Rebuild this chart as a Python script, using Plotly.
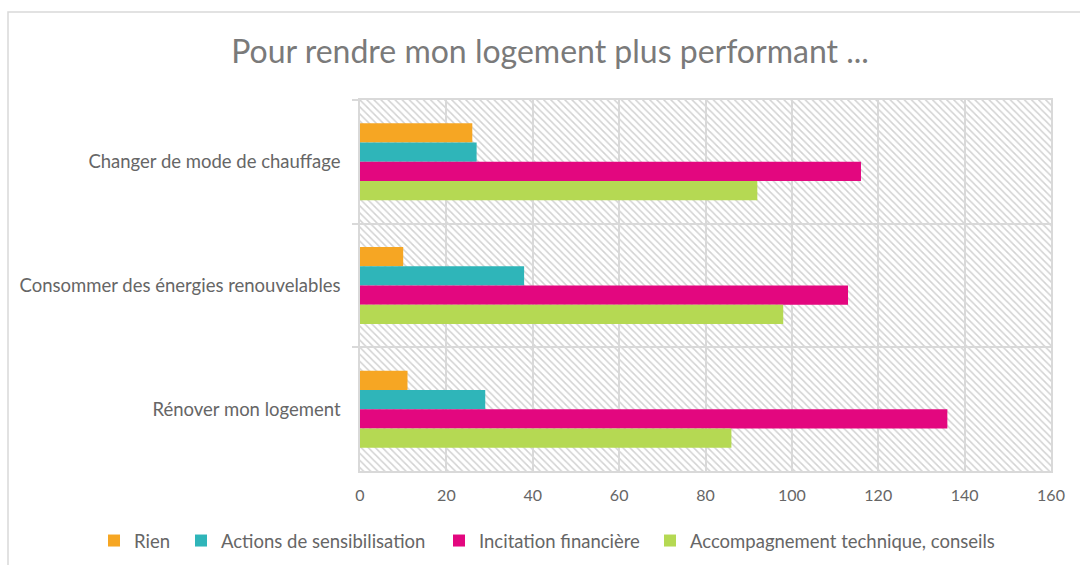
import plotly.graph_objects as go

# Survey answers: what would push respondents to make their home more efficient
categories = [
    "Changer de mode de chauffage",
    "Consommer des énergies renouvelables",
    "Rénover mon logement",
]
rien = [26, 10, 11]
sensibilisation = [27, 38, 29]
incitation = [116, 113, 136]
accompagnement = [92, 98, 86]

series_names = [
    "Rien",
    "Actions de sensibilisation",
    "Incitation financière",
    "Accompagnement technique, conseils",
]
series_values = [rien, sensibilisation, incitation, accompagnement]
series_colors = ["#F6A623", "#2FB5B9", "#E3077F", "#B5D953"]

x_ticks = [0, 20, 40, 60, 80, 100, 120, 140, 160]

W, H = 1080, 565
L, R, T, B = 360, 29, 100, 94
GRID = "#d9d9d9"
TEXT = "#666666"
FONT = "Lato"

# left edge (px) of each legend entry along the bottom row
legend_left = [94, 181, 439, 650]

fig = go.Figure()

# hatched plot background (drawn on its own subplot, underneath the grid)
fig.add_trace(go.Bar(
    y=categories, x=[x_ticks[-1]] * len(categories), orientation="h",
    width=1, xaxis="x", yaxis="y", showlegend=False, hoverinfo="skip",
    marker=dict(color="#d2d2d2", line=dict(width=0),
                pattern=dict(shape="\\", size=5, solidity=0.3, fillmode="replace")),
))

legend_ids = ["legend", "legend2", "legend3", "legend4"]
for name, vals, col, lid in zip(series_names, series_values, series_colors, legend_ids):
    fig.add_trace(go.Bar(
        y=categories, x=vals, name=name, orientation="h",
        xaxis="x2", yaxis="y2", legend=lid,
        marker=dict(color=col, line=dict(width=0)),
    ))

pw = W - L - R
ph = H - T - B

def px_x(p):
    return (p - L) / pw

def px_y(p):
    return (H - B - p) / ph

legends = {}
for lid, lx in zip(legend_ids, legend_left):
    legends[lid] = dict(
        orientation="h", x=px_x(lx), xanchor="left",
        y=px_y(541), yanchor="middle", bgcolor="rgba(0,0,0,0)",
        font=dict(size=18.5, color=TEXT),
    )

fig.update_layout(
    width=W, height=H,
    margin=dict(l=L, r=R, t=T, b=B, autoexpand=False),
    paper_bgcolor="white",
    plot_bgcolor="rgba(0,0,0,0)",
    barmode="group", bargap=0.377, bargroupgap=0,
    font=dict(family=FONT, color=TEXT, size=16),
    title=dict(
        text="Pour rendre mon logement plus performant ...",
        font=dict(family=FONT, size=32, color="#7a7a7a"),
        x=550 / W, xanchor="center", xref="container",
        y=1 - 52 / H, yanchor="middle", yref="container",
    ),
    xaxis=dict(range=[x_ticks[0], x_ticks[-1]], visible=False, fixedrange=True),
    yaxis=dict(categoryorder="array", categoryarray=categories,
               range=[len(categories) - 0.5, -0.5], visible=False),
    xaxis2=dict(
        range=[x_ticks[0], x_ticks[-1]], tickvals=x_ticks,
        showgrid=True, gridcolor=GRID, gridwidth=1.5,
        showline=True, linecolor=GRID, linewidth=1.5, mirror=True,
        ticks="", zeroline=False, anchor="y2",
        tickfont=dict(size=16, color=TEXT), ticklabelstandoff=9,
    ),
    yaxis2=dict(
        categoryorder="array", categoryarray=categories,
        range=[len(categories) - 0.5, -0.5],
        showgrid=True, gridcolor=GRID, gridwidth=1.5, tickson="boundaries",
        ticks="outside", ticklen=6, tickcolor=GRID, tickwidth=1.5,
        showline=True, linecolor=GRID, linewidth=1.5, mirror=True,
        anchor="x2", tickfont=dict(size=18.5, color=TEXT), ticklabelstandoff=14,
    ),
    shapes=[dict(
        type="rect", xref="paper", yref="paper",
        x0=px_x(8), x1=px_x(W + 10), y0=px_y(H + 10), y1=px_y(12),
        line=dict(color=GRID, width=1.5), fillcolor="rgba(0,0,0,0)", layer="below",
    )],
    **legends,
)

fig.write_html("out.html")
